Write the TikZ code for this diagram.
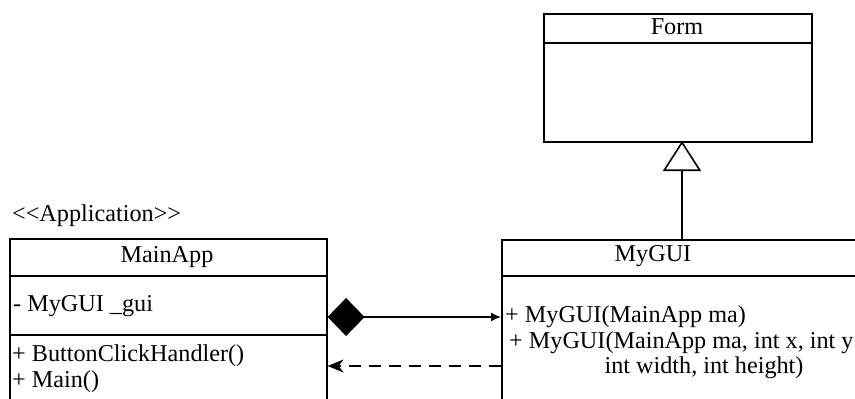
\documentclass[tikz,border=0pt]{standalone}
\usepackage{fontspec}
\setmainfont{Liberation Serif}[Ligatures=TeXOff]
\usetikzlibrary{arrows.meta}
\begin{document}
\begin{tikzpicture}[x=1pt,y=-1pt,
  every node/.style={inner sep=0pt, font=\fontsize{24.2}{28}\selectfont},
  umlbox/.style={draw, line width=1.6pt, rectangle, minimum width=#1},
  rule/.style={line width=1.6pt},
  conn/.style={line width=1.6pt},
  txt/.style={anchor=west}]
\useasboundingbox (0,0) rectangle (855,399);
\clip (0,0) rectangle (855,399);

% class boxes
\node[umlbox=268, minimum height=128, anchor=north west] (form) at (543,13) {};
\node[umlbox=317, minimum height=190, anchor=north west] (mainapp) at (9,238) {};
\node[umlbox=420, minimum height=190, anchor=north west] (mygui) at (501,239) {};

% compartment separators
\draw[rule] (543,43) -- (811,43);
\draw[rule] (9,276) -- (326,276);
\draw[rule] (9,335) -- (326,335);
\draw[rule] (501,276) -- (921,276);

% texts
\node at (677,27) (formname) {Form};
\node[txt] at (12,216) (stereo) {<<Application>>};
\node at (167,257) (mainname) {MainApp};
\node[txt] at (13,306) (attr) {- MyGUI \_gui};
\node[txt] at (12,356) (op1) {+ ButtonClickHandler()};
\node[txt] at (12,382) (op2) {+ Main()};
\node at (653,256) (guiname) {MyGUI};
\node[txt] at (505,317) (ctor1) {+ MyGUI(MainApp ma)};
\node[txt] at (509,343) (ctor2a) {+ MyGUI(MainApp ma, int x, int y};
\node at (704,368) (ctor2b) {int width, int height)};

% connector anchors
\coordinate (gen) at (682,141);
\coordinate (comp) at (0,317);
\coordinate (dep) at (0,366);

% generalization
\draw[conn, -{Triangle[open, length=30pt, width=38pt, line width=1.6pt]}]
  (gen |- mygui.north) -- (gen);

% composition
\draw[conn, {Diamond[length=37pt, width=38pt]}-{Latex[length=10pt, width=9pt]}]
  (mainapp.east |- comp) -- (mygui.west |- comp);

% dependency
\draw[conn, dash pattern=on 12pt off 8pt, -{Stealth[length=16pt, width=13pt, inset=5pt]}]
  (mygui.west |- dep) -- (mainapp.east |- dep);
\end{tikzpicture}
\end{document}
